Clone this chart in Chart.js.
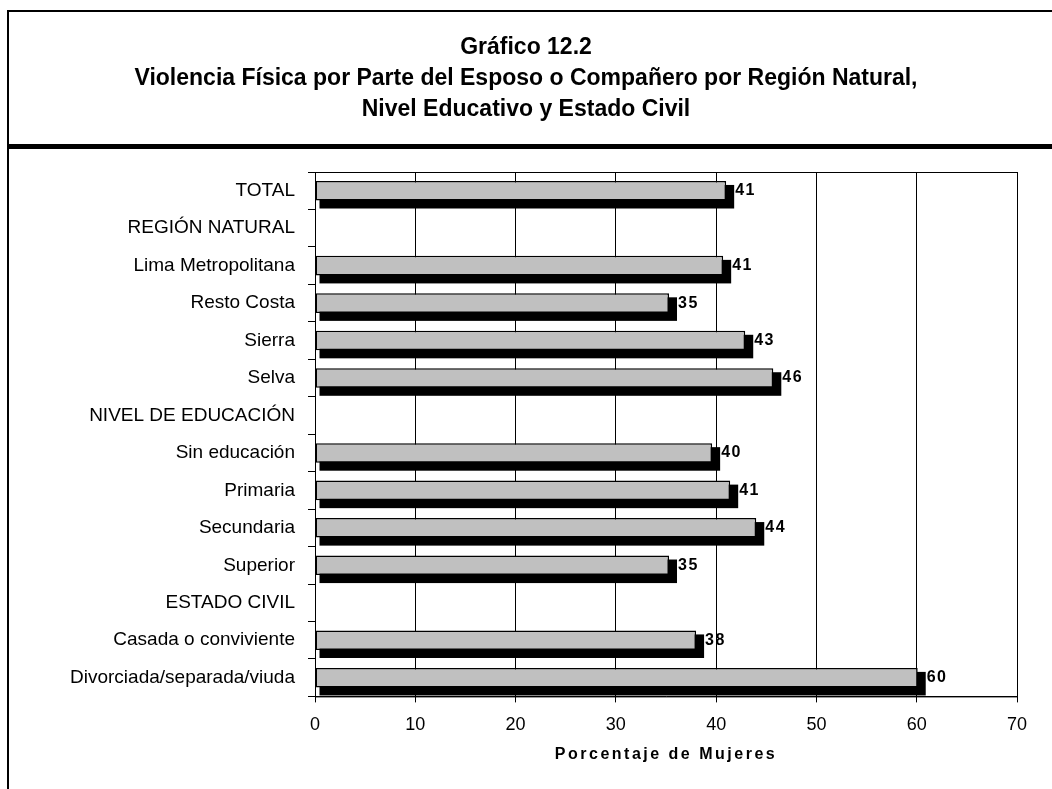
<!DOCTYPE html>
<html>
<head>
<meta charset="utf-8">
<script src="https://cdn.jsdelivr.net/npm/chart.js@4.4.0/dist/chart.umd.min.js"></script>
<style>
  html, body { margin: 0; padding: 0; background: #fff; overflow: hidden; }
  #wrap { position: relative; width: 1052px; height: 789px; }
</style>
</head>
<body>
<div id="wrap"><canvas id="violenciaChart" width="1052" height="789"></canvas></div>

<script>
// Chart data
const categories = [
    'TOTAL',
    'REGIÓN NATURAL',
    'Lima Metropolitana',
    'Resto Costa',
    'Sierra',
    'Selva',
    'NIVEL DE EDUCACIÓN',
    'Sin educación',
    'Primaria',
    'Secundaria',
    'Superior',
    'ESTADO CIVIL',
    'Casada o conviviente',
    'Divorciada/separada/viuda'
];

const values = [41.0, null, 40.7, 35.3, 42.9, 45.7, null, 39.6, 41.4, 44.0, 35.3, null, 38.0, 60.1];

const xTicks = [0, 10, 20, 30, 40, 50, 60, 70];

const titleLines = [
    'Gráfico 12.2',
    'Violencia Física por Parte del Esposo o Compañero por Región Natural,',
    'Nivel Educativo y Estado Civil'
];

const xTitle = 'Porcentaje de Mujeres';

const FONT = "Arial, 'Liberation Sans', sans-serif";


// Outer frame, title block and thick rule under it
const framePlugin = {
    id: 'frame',
    beforeDraw(chart) {
        const ctx = chart.ctx;
        ctx.save();
        ctx.fillStyle = '#000';
        ctx.fillRect(7, 10, 2, chart.height - 10);
        ctx.fillRect(7, 10, chart.width - 7, 2);
        ctx.fillRect(7, 144, chart.width - 7, 5);

        ctx.font = 'bold 23px ' + FONT;
        ctx.textAlign = 'center';
        ctx.textBaseline = 'middle';
        titleLines.forEach((line, i) => {
            ctx.fillText(line, 526, 48 + i * 31);
        });
        ctx.restore();
    }
};


// Black depth behind each bar + plot border
const shadowPlugin = {
    id: 'barShadow',
    beforeDatasetsDraw(chart) {
        const ctx = chart.ctx;
        const area = chart.chartArea;
        const meta = chart.getDatasetMeta(0);

        ctx.save();
        ctx.strokeStyle = '#000';
        ctx.lineWidth = 1;
        ctx.strokeRect(area.left + 0.5, area.top + 0.5, area.right - area.left, area.bottom - area.top);

        ctx.fillStyle = '#000';
        meta.data.forEach((bar, i) => {
            if (values[i] == null) return;
            const p = bar.getProps(['x', 'y', 'base', 'height'], true);
            const top = p.y - p.height / 2;
            ctx.fillRect(p.base + 4, top + 4, p.x - p.base + 4, p.height + 4);
        });
        ctx.restore();
    }
};


// Value labels and x axis title
const labelPlugin = {
    id: 'valueLabels',
    afterDatasetsDraw(chart) {
        const ctx = chart.ctx;
        const meta = chart.getDatasetMeta(0);

        ctx.save();
        ctx.fillStyle = '#000';
        ctx.font = 'bold 16px ' + FONT;
        ctx.textBaseline = 'middle';
        ctx.textAlign = 'left';
        ctx.letterSpacing = '1.5px';
        meta.data.forEach((bar, i) => {
            if (values[i] == null) return;
            const p = bar.getProps(['x', 'y'], true);
            ctx.fillText(String(Math.round(values[i])), p.x + 9, p.y);
        });
        ctx.restore();
    },
    afterDraw(chart) {
        const ctx = chart.ctx;
        const area = chart.chartArea;

        ctx.save();
        ctx.fillStyle = '#000';
        ctx.font = 'bold 16px ' + FONT;
        ctx.textBaseline = 'middle';
        ctx.textAlign = 'center';
        ctx.letterSpacing = '2.5px';
        ctx.fillText(xTitle, (area.left + area.right) / 2, 755);
        ctx.restore();
    }
};


// Create chart
function createViolenciaChart() {

    const ctx = document.getElementById('violenciaChart').getContext('2d');

    new Chart(ctx, {
        type: 'bar',

        data: {
            labels: categories,

            datasets: [{
                data: values,
                backgroundColor: '#c0c0c0',
                borderColor: '#000',
                borderWidth: 1.5,
                borderSkipped: false,
                barPercentage: 0.6,
                categoryPercentage: 0.87
            }]
        },

        options: {
            indexAxis: 'y',
            responsive: false,
            animation: false,

            layout: {
                padding: { top: 172, left: 0, right: 35, bottom: 41 }
            },

            plugins: {
                legend: { display: false },
                tooltip: { enabled: false },
                title: { display: false }
            },

            scales: {
                x: {
                    min: xTicks[0],
                    max: xTicks[xTicks.length - 1],
                    afterBuildTicks(scale) {
                        scale.ticks = xTicks.map(v => ({ value: v }));
                    },
                    grid: {
                        color: '#000',
                        lineWidth: 1,
                        tickLength: 6,
                        tickColor: '#000'
                    },
                    border: { color: '#000', width: 1 },
                    ticks: {
                        color: '#000',
                        font: { family: FONT, size: 18 },
                        padding: 12,
                        maxRotation: 0
                    }
                },
                y: {
                    afterFit(scale) {
                        scale.width = 315;
                    },
                    grid: {
                        drawOnChartArea: false,
                        tickLength: 7,
                        tickColor: '#000'
                    },
                    border: { color: '#000', width: 1 },
                    ticks: {
                        color: '#000',
                        autoSkip: false,
                        font: { family: FONT, size: 19 },
                        padding: 13
                    }
                }
            }
        },

        plugins: [framePlugin, shadowPlugin, labelPlugin]
    });
}

createViolenciaChart();
</script>
</body>
</html>
